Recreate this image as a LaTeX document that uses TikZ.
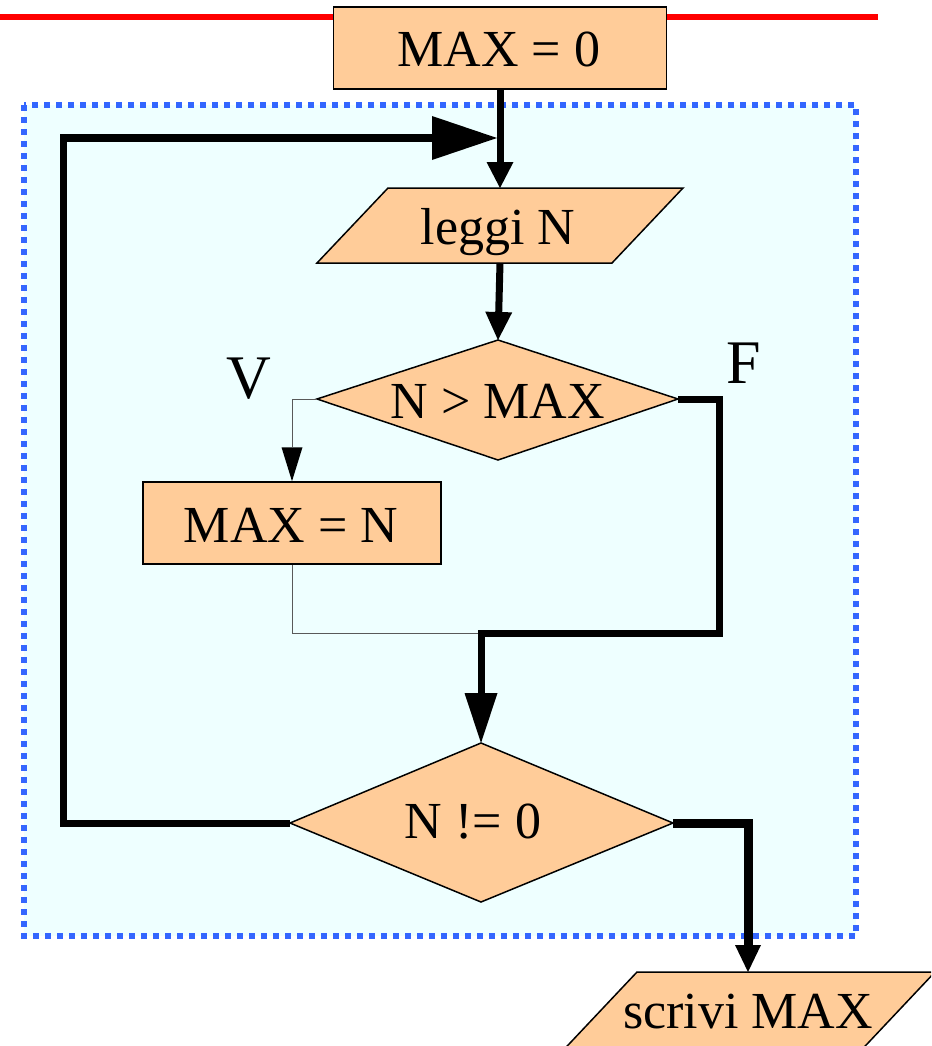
\documentclass[tikz,border=0pt]{standalone}
\usepackage{fontspec}
\setmainfont{Liberation Serif}
\usetikzlibrary{arrows.meta}
\definecolor{peach}{HTML}{FFCC99}
\definecolor{panel}{HTML}{EEFFFF}
\definecolor{dotblue}{HTML}{3366FF}
\begin{document}
\begin{tikzpicture}[x=1pt,y=-1pt,
  shapebox/.style={draw=black,line width=1.5pt,fill=peach},
  txt/.style={font=\fontsize{52}{60}\selectfont,inner sep=0pt,anchor=base},
  lab/.style={font=\fontsize{62}{70}\selectfont,inner sep=0pt,anchor=base},
  flow/.style={line width=7pt,line join=miter,draw=black},
  thinflow/.style={line width=1pt,draw=black!65},
]
\clip (0,0) rectangle (931,1046);
% red line
\draw[red, line width=6pt] (0,17) -- (878,17);
% loop panel
\draw[dotblue, line width=6pt, dash pattern=on 6pt off 6pt, fill=panel] (24,105) rectangle (856,936);

% MAX = 0
\node[shapebox, minimum width=333pt, minimum height=82pt, inner sep=0pt] (init) at (500,48) {};
\node[txt] (initT) at (499,67) {MAX = 0};

% leggi N
\draw[shapebox] (388,188) -- (683,188) -- (612,263) -- (317,263) -- cycle;
\coordinate (readN) at (500,188);
\coordinate (readS) at (500,263);
\node[txt] (read) at (498,244) {leggi N};

% N > MAX
\draw[shapebox] (498,340) -- (678,399) -- (498,460) -- (317,399) -- cycle;
\coordinate (d1N) at (498,340);
\coordinate (d1E) at (678,399);
\coordinate (d1W) at (317,399);
\node[txt] (cmp) at (498,418) {N > MAX};

% MAX = N
\node[shapebox, minimum width=298pt, minimum height=82pt, inner sep=0pt] (upd) at (292,523) {};
\node[txt] (updT) at (291,542) {MAX = N};

% N != 0
\draw[shapebox] (481,743) -- (673,823) -- (481,902) -- (290,823) -- cycle;
\coordinate (d2N) at (481,743);
\coordinate (d2E) at (673,823);
\coordinate (d2W) at (290,823);
\node[txt] (test) at (473,838) {N != 0};

% scrivi MAX
\draw[shapebox] (637,972) -- (935,972) -- (852,1060) -- (554,1060) -- cycle;
\coordinate (outN) at (748,972);
\node[txt] (out) at (748,1028) {scrivi MAX};

% labels
\node[lab] (V) at (249,398) {V};
\node[lab] (F) at (744,383) {F};

% helper points
\coordinate (merge) at (481,633);
\coordinate (fR) at (719,633);
\coordinate (lpC) at (63,138);
\coordinate (loopEnd) at (497,138);

% connectors
\draw[flow,-{Triangle[length=26pt,width=27pt,line width=0pt]}] (init.south) -- (readN);
\draw[flow,-{Triangle[length=28pt,width=27pt,line width=0pt]}] (readS) -- (d1N);
\draw[thinflow,-{Triangle[length=34pt,width=21pt,line width=0pt,color=black]}] (d1W) -| (upd.north);
\draw[thinflow] (upd.south) |- (merge);
\draw[flow,-{Triangle[length=50pt,width=33pt,line width=0pt]}] (d1E) -| (fR) -- (merge) -- (d2N);
\draw[flow,-{Triangle[length=65pt,width=44pt,line width=0pt]}] (d2W) -| (lpC) -- (loopEnd);
\draw[line width=9pt,line join=miter,-{Triangle[length=27pt,width=26pt,line width=0pt]}] (d2E) -| (outN);
\end{tikzpicture}
\end{document}
